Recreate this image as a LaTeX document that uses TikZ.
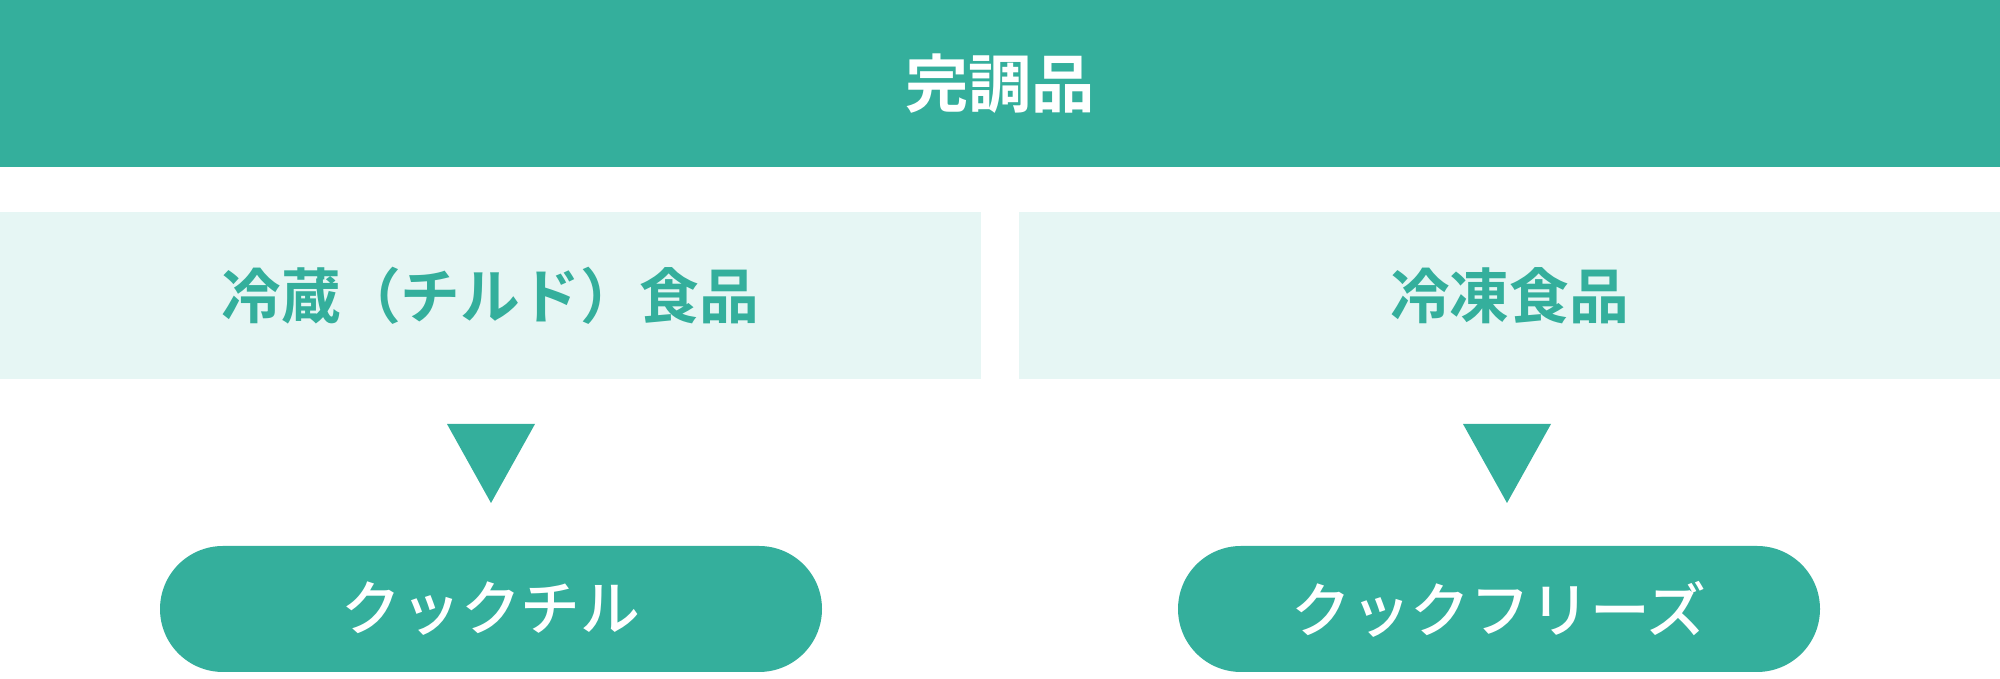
\documentclass[tikz,border=0pt]{standalone}
\usepackage{fontspec}
\usepackage{tikz}
\usetikzlibrary{calc}
\newfontfamily\jpfont{Noto Sans CJK JP Medium}
\newfontfamily\jpbold{Noto Sans CJK JP Bold}
\definecolor{teal(main)}{HTML}{34AF9C}
\definecolor{teal(light)}{HTML}{E6F6F4}

\begin{document}
\begin{tikzpicture}[
		headbox/.style={fill=teal(main),text=white,inner sep=0,minimum width=20cm,minimum height=1.67cm,font=\jpbold\fontsize{18pt}{20pt}\selectfont},
		kindbox/.style={fill=teal(light),text=teal(main),inner sep=0,minimum height=1.67cm,font=\jpbold\fontsize{17pt}{19pt}\selectfont},
		methodpill/.style={fill=teal(main),text=white,inner sep=0,minimum height=1.26cm,rounded corners=0.63cm,font=\jpfont\fontsize{17pt}{19pt}\selectfont}
	]
		\useasboundingbox (0,0) rectangle (20,6.79);
		% Top heading
		\node[headbox] (kanchou) at (10,5.955) {完調品};
		
		% Kinds of food
		\node[kindbox,minimum width=9.81cm] (reizou) at (4.905,3.835) {冷蔵（チルド）食品};
		\node[kindbox,minimum width=9.81cm] (reitou) at (15.095,3.835) {冷凍食品};
		
		% Down triangles
		\fill[teal(main)] (4.47,2.55) -- (5.35,2.55) -- (4.91,1.76) -- cycle;
		\fill[teal(main)] (14.63,2.55) -- (15.51,2.55) -- (15.07,1.76) -- cycle;
		
		% Methods
		\node[methodpill,minimum width=6.62cm] (cookchill) at (4.91,0.70) {クックチル};
		\node[methodpill,minimum width=6.42cm] (cookfreeze) at (14.99,0.70) {クックフリーズ};
	\end{tikzpicture}
\end{document}
